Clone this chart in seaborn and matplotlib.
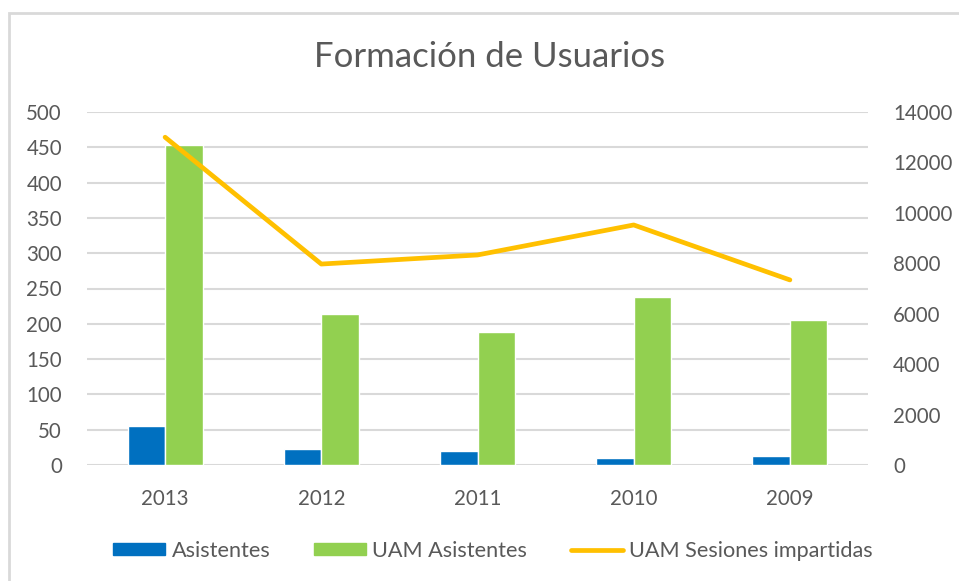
import numpy as np
import pandas as pd
import seaborn as sns
import matplotlib.pyplot as plt
from matplotlib.patches import Rectangle
from matplotlib.lines import Line2D

# datos
years = ['2013', '2012', '2011', '2010', '2009']
asistentes = [55, 22, 20, 10, 13]
uam_asistentes = [453, 214, 188, 238, 206]
uam_sesiones = [13000, 7970, 8330, 9520, 7340]

AZUL = '#0070C0'
VERDE = '#92D050'
AMARILLO = '#FFC000'
GRIS = '#595959'
REJILLA = '#D9D9D9'

sns.set_style('white')
plt.rcParams['font.family'] = ['Lato', 'DejaVu Sans']

df = pd.DataFrame({
    'year': years * 2,
    'valor': asistentes + uam_asistentes,
    'serie': ['Asistentes'] * len(years) + ['UAM Asistentes'] * len(years),
})

fig = plt.figure(figsize=(9.59, 5.81), dpi=100)
ax = fig.add_axes([87 / 959, 1 - 465 / 581, (868 - 87) / 959, (465 - 112) / 581])

sns.barplot(data=df, x='year', y='valor', hue='serie', order=years,
            hue_order=['Asistentes', 'UAM Asistentes'],
            palette=[AZUL, VERDE], width=0.48, gap=0, saturation=1,
            legend=False, ax=ax, zorder=3)

ax.set_ylim(0, 500)
ax.set_yticks(range(0, 501, 50))
ax.set_xlim(-0.5, len(years) - 0.5)
ax.yaxis.grid(True, color=REJILLA, linewidth=1.5, zorder=0)
ax.set_axisbelow(True)
for s in ax.spines.values():
    s.set_visible(False)
ax.set_xlabel('')
ax.set_ylabel('')
ax.tick_params(axis='y', length=0, pad=18, labelsize=14.8, labelcolor=GRIS)
ax.tick_params(axis='x', length=0, pad=17, labelsize=14.8, labelcolor=GRIS)

ax2 = ax.twinx()
sns.lineplot(x=np.arange(len(years)), y=uam_sesiones, ax=ax2, color=AMARILLO,
             linewidth=3.4, sort=False, zorder=4)
ax2.lines[0].set_solid_capstyle('round')
ax2.set_ylim(0, 14000)
ax2.set_yticks(range(0, 14001, 2000))
for s in ax2.spines.values():
    s.set_visible(False)
ax2.tick_params(axis='y', length=0, pad=18, labelsize=14.8, labelcolor=GRIS)
ax2.set_ylabel('')

fig.text(490 / 959, 1 - 57 / 581, 'Formación de Usuarios', ha='center', va='center',
         fontsize=25, color=GRIS)

handles = [
    Rectangle((0, 0), 1, 1, color=AZUL),
    Rectangle((0, 0), 1, 1, color=VERDE),
    Line2D([0], [0], color=AMARILLO, linewidth=3.4, solid_capstyle='round'),
]
labels = ['Asistentes', 'UAM Asistentes', 'UAM Sesiones impartidas']
leg = fig.legend(handles, labels, loc='center', ncol=3,
                 bbox_to_anchor=(493 / 959, 1 - 551 / 581), frameon=False,
                 fontsize=15.6, handlelength=2.4, handleheight=0.5,
                 handletextpad=0.3, columnspacing=2.0, labelcolor=GRIS)

# marco del gráfico
fig.patches.append(Rectangle((9 / 959, -0.05), 1.1, 1 - 13 / 581 + 0.05,
                             transform=fig.transFigure, fill=False,
                             edgecolor=REJILLA, linewidth=2))

fig.savefig('out.png', dpi=100)
